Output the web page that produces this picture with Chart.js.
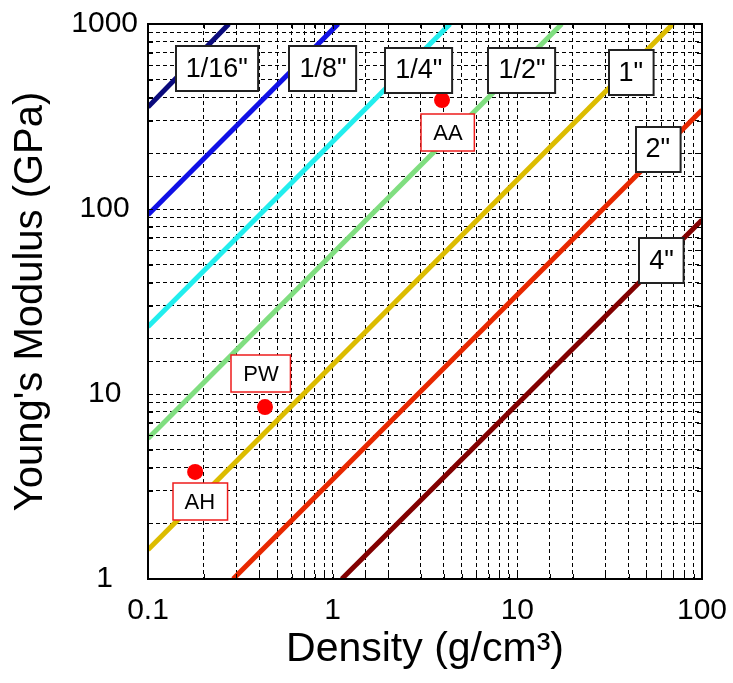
<!DOCTYPE html>
<html>
<head>
<meta charset="utf-8">
<title>Young's Modulus vs Density</title>
<script src="https://cdn.jsdelivr.net/npm/chart.js@4.4.1/dist/chart.umd.min.js"></script>
<style>
  html, body { margin: 0; padding: 0; background: #fff; }
  canvas { display: block; }
</style>
</head>
<body>
<canvas id="modulusChart" width="733" height="683"></canvas>
<script>
// panel thickness curves: straight runs between two end points (density g/cm3, modulus GPa)
const thicknessLabels = ['1/16"', '1/8"', '1/4"', '1/2"', '1"', '2"', '4"'];
const lineDensity = [
    [0.1, 0.274],
    [0.1, 1.07],
    [0.1, 4.32],
    [0.1, 17.4],
    [0.1, 69.6],
    [0.289, 100],
    [1.12, 100]
];
const lineModulus = [
    [356, 1000],
    [93, 1000],
    [23.1, 1000],
    [5.75, 1000],
    [1.44, 1000],
    [1, 343],
    [1, 87.2]
];
const lineColors = ['#0a0a7c', '#1010e6', '#22eeee', '#80de80', '#dcbc00', '#e82800', '#820000'];

// measured samples
const sampleNames = ['AH', 'PW', 'AA'];
const sampleDensity = [0.18, 0.43, 3.91];
const sampleModulus = [3.79, 8.5, 388];

const xTickValues = [0.1, 1, 10, 100];
const yTickValues = [1, 10, 100, 1000];

// where the tag boxes sit, in axis units
const thicknessTagAt = [[0.236, 575], [0.886, 575], [2.93, 564], [10.6, 564], [41.2, 547], [57.7, 211], [60.3, 52.4]];
const sampleTagAt = [[0.191, 2.62], [0.409, 12.9], [4.21, 259]];

const FONT = 'Liberation Sans, Arial, sans-serif';

function onlyDecades(list) {
    return function(value) {
        const hit = list.find(v => Math.abs(Math.log10(v) - Math.log10(value)) < 1e-6);
        return hit === undefined ? '' : String(hit);
    };
}

function drawTag(ctx, text, cx, cy, size, h, padX, stroke, lw) {
    ctx.font = size + 'px ' + FONT;
    const w = ctx.measureText(text).width + padX * 2;
    const x = Math.round(cx - w / 2), y = Math.round(cy - h / 2);
    ctx.fillStyle = '#fff';
    ctx.fillRect(x, y, w, h);
    ctx.strokeStyle = stroke;
    ctx.lineWidth = lw;
    ctx.strokeRect(x, y, w, h);
    ctx.fillStyle = '#000';
    ctx.textAlign = 'center';
    ctx.textBaseline = 'middle';
    ctx.fillText(text, cx, cy + 1);
}

const tagPlugin = {
    id: 'tags',
    afterDatasetsDraw(chart) {
        const {ctx, chartArea, scales: {x, y}} = chart;
        const {left, right, top, bottom} = chartArea;
        ctx.save();
        ctx.setLineDash([]);
        ctx.strokeStyle = '#000';
        ctx.lineWidth = 2;
        ctx.strokeRect(left, top, right - left, bottom - top);

        // short solid tick marks inside the box on every side
        ctx.lineWidth = 1;
        ctx.beginPath();
        x.ticks.forEach(function(t) {
            const px = Math.round(x.getPixelForValue(t.value)) + 0.5;
            ctx.moveTo(px, top); ctx.lineTo(px, top + 5);
            ctx.moveTo(px, bottom); ctx.lineTo(px, bottom - 5);
        });
        y.ticks.forEach(function(t) {
            const py = Math.round(y.getPixelForValue(t.value)) + 0.5;
            ctx.moveTo(left, py); ctx.lineTo(left + 5, py);
            ctx.moveTo(right, py); ctx.lineTo(right - 5, py);
        });
        ctx.stroke();

        thicknessLabels.forEach(function(label, i) {
            const p = thicknessTagAt[i];
            drawTag(ctx, label, x.getPixelForValue(p[0]), y.getPixelForValue(p[1]), 27, 45, 10, '#222', 2);
        });
        sampleNames.forEach(function(name, i) {
            const p = sampleTagAt[i];
            drawTag(ctx, name, x.getPixelForValue(p[0]), y.getPixelForValue(p[1]), 22, 37, 12, '#ee1c1c', 1.5);
        });
        ctx.restore();
    }
};

const datasets = thicknessLabels.map(function(label, i) {
    return {
        label: label,
        data: lineDensity[i].map((d, k) => ({x: d, y: lineModulus[i][k]})),
        showLine: true,
        borderColor: lineColors[i],
        borderWidth: 5,
        pointRadius: 0,
        fill: false
    };
});
datasets.push({
    label: 'samples',
    data: sampleDensity.map((d, i) => ({x: d, y: sampleModulus[i]})),
    pointRadius: 8,
    pointBackgroundColor: '#ff0000',
    pointBorderWidth: 0,
    showLine: false
});

const ctx = document.getElementById('modulusChart').getContext('2d');
const chart = new Chart(ctx, {
    type: 'scatter',
    data: { datasets: datasets },
    options: {
        responsive: false,
        animation: false,
        layout: { padding: { left: 0, right: 31, top: 24, bottom: 0 } },
        plugins: {
            legend: { display: false },
            tooltip: { enabled: false }
        },
        scales: {
            x: {
                type: 'logarithmic',
                min: 0.1,
                max: 100,
                grid: { color: '#000', lineWidth: 1, drawTicks: false },
                border: { display: true, color: '#000', width: 2, dash: [4, 3] },
                ticks: {
                    autoSkip: false,
                    maxRotation: 0,
                    padding: 14,
                    color: '#000',
                    font: { family: FONT, size: 30 },
                    callback: onlyDecades(xTickValues)
                },
                title: {
                    display: true,
                    text: 'Density (g/cm³)',
                    color: '#000',
                    font: { family: FONT, size: 41 },
                    padding: { top: 0, bottom: 9 }
                },
                afterFit: function(scale) {
                    scale.height = 104;
                    // end labels may hang past the plot box
                    scale.paddingLeft = 0;
                    scale.paddingRight = 0;
                }
            },
            y: {
                type: 'logarithmic',
                min: 1,
                max: 1000,
                grid: { color: '#000', lineWidth: 1, drawTicks: false },
                border: { display: true, color: '#000', width: 2, dash: [4, 3] },
                ticks: {
                    autoSkip: false,
                    padding: 10,
                    crossAlign: 'center',
                    color: '#000',
                    font: { family: FONT, size: 30 },
                    callback: onlyDecades(yTickValues)
                },
                title: {
                    display: true,
                    text: "Young's Modulus (GPa)",
                    color: '#000',
                    font: { family: FONT, size: 40 },
                    padding: { top: 7, bottom: 0 }
                },
                afterFit: function(scale) {
                    scale.width = 148;
                    scale.paddingTop = 0;
                    scale.paddingBottom = 0;
                }
            }
        }
    },
    plugins: [tagPlugin]
});
</script>
</body>
</html>
